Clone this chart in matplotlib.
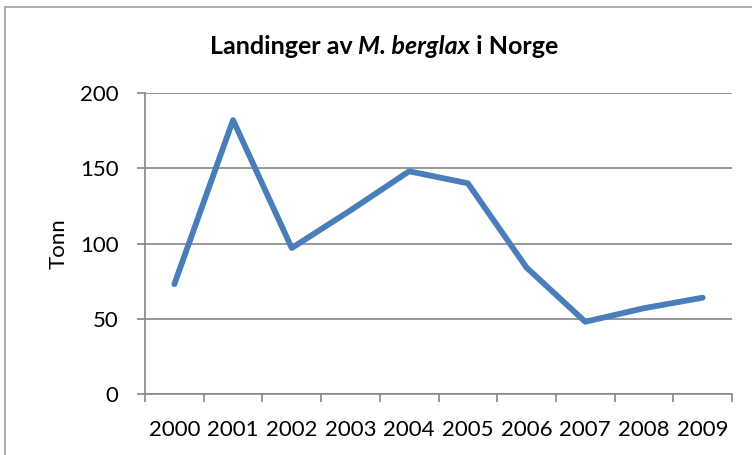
import matplotlib
matplotlib.use("Agg")
import matplotlib.pyplot as plt
from matplotlib.patches import Rectangle

years = ["2000", "2001", "2002", "2003", "2004", "2005", "2006", "2007", "2008", "2009"]
tonn = [73, 182, 97, 122, 148, 140, 84, 48, 57, 64]
yticks = [0, 50, 100, 150, 200]

plt.rcParams['font.family'] = ['Lato', 'DejaVu Sans']

fig = plt.figure(figsize=(7.52, 4.55), dpi=100)
fig.patches.append(Rectangle((5 / 752, -0.1), 1.2, 1 - 7 / 455 + 0.1, transform=fig.transFigure,
                             fill=False, edgecolor='#a0a0a0', linewidth=1.2))

ax = fig.add_axes([145 / 752, 61 / 455, 587 / 752, 301 / 455])
x = list(range(len(years)))
ax.plot(x, tonn, color='#4a7ebb', linewidth=4.2, solid_capstyle='round', solid_joinstyle='round', zorder=3)

ax.set_xlim(-0.5, len(years) - 0.5)
ax.set_ylim(0, 200)
ax.set_yticks(yticks)
ax.set_yticklabels([str(v) for v in yticks], fontsize=16)
ax.set_xticks([i - 0.5 for i in range(len(years) + 1)])
ax.set_xticklabels([])
ax.set_xticks(x, minor=True)
ax.set_xticklabels(years, minor=True, fontsize=16)
ax.tick_params(axis='x', which='minor', length=0, pad=19)
ax.tick_params(axis='x', which='major', length=6, width=1.2, color='#868686', direction='out')
ax.tick_params(axis='y', length=6, width=1.2, color='#868686', pad=13)
ax.grid(axis='y', color='#868686', linewidth=1.2)
ax.set_axisbelow(True)
for s in ['top', 'right']:
    ax.spines[s].set_visible(False)
for s in ['left', 'bottom']:
    ax.spines[s].set_color('#868686')
    ax.spines[s].set_linewidth(1.2)
ax.set_ylabel('Tonn', fontsize=16, labelpad=8)

# title with italic species name
parts = [("Landinger av ", 'normal'), ("M. berglax", 'italic'), (" i Norge", 'normal')]
r = fig.canvas.get_renderer()
texts = []
for s, st in parts:
    t = fig.text(0, 1 - 46 / 455, s, fontsize=18, fontweight='bold', style=st, va='center')
    texts.append(t)
widths = [t.get_window_extent(r).width for t in texts]
xpos = 384 - sum(widths) / 2
for t, w in zip(texts, widths):
    t.set_x(xpos / 752)
    xpos += w

fig.savefig('out.png', dpi=100)
